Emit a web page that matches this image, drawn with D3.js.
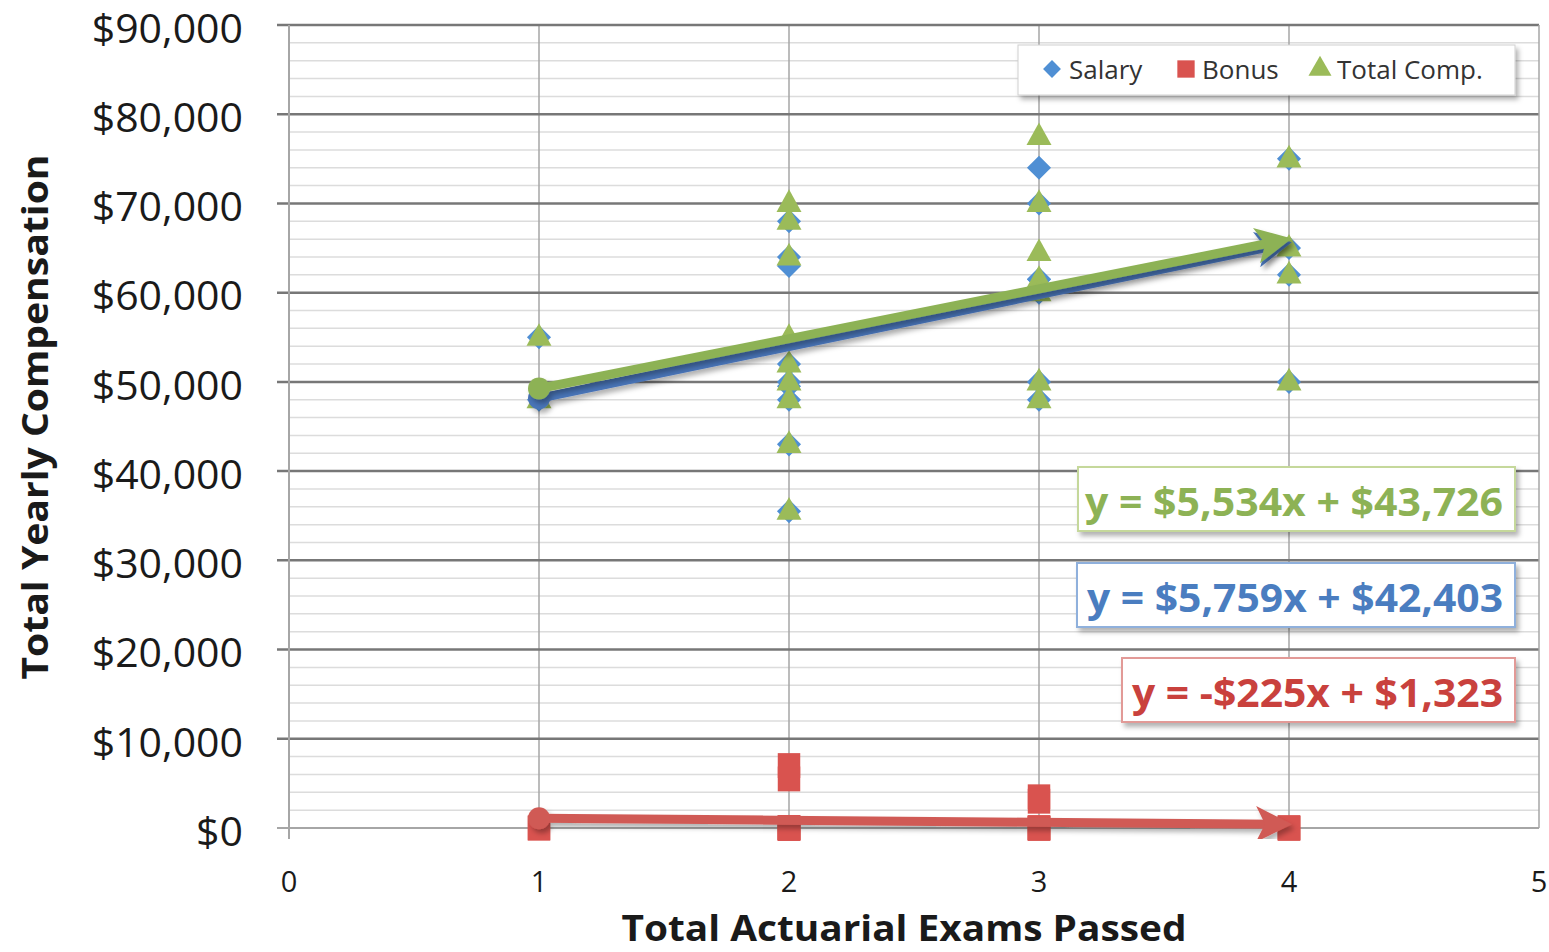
<!DOCTYPE html>
<html lang="en">
<head>
<meta charset="UTF-8">
<title>Total Yearly Compensation vs Exams Passed</title>
<script src="https://d3js.org/d3.v7.min.js"></script>
<style>
    body { margin: 0; background: #fff; }
    svg { display: block; font-family: "Open Sans", "DejaVu Sans", sans-serif; }
</style>
</head>
<body>
<svg id="chart" width="1549" height="952"></svg>
<script>
// one entry per respondent
const examsPassed = [1, 1, 2, 2, 2, 2, 2, 2, 2, 2, 2, 3, 3, 3, 3, 3, 3, 3, 4, 4, 4, 4];
const salary = [55000, 48000, 68000, 63000, 64000, 49500, 52000, 50000, 48000, 43000, 35500,
                74000, 70000, 61500, 61500, 60000, 50000, 48000, 75000, 65000, 62000, 50000];
const bonus  = [0, 0, 0, 7000, 0, 5500, 0, 0, 0, 0, 0,
                3500, 0, 3000, 0, 0, 0, 0, 0, 0, 0, 0];
const totalComp = [55000, 48000, 68000, 70000, 64000, 55000, 52000, 50000, 48000, 43000, 35500,
                   77500, 70000, 64500, 61500, 60000, 50000, 48000, 75000, 65000, 62000, 50000];

// trend line coefficients shown in the chart: [slope, intercept]
const trendTotal = [5534, 43726];
const trendSalary = [5759, 42403];
const trendBonus = [-225, 1323];

const xTicks = [0, 1, 2, 3, 4, 5];
const yTicks = [0, 10000, 20000, 30000, 40000, 50000, 60000, 70000, 80000, 90000];
const legendNames = ['Salary', 'Bonus', 'Total Comp.'];

const colors = {
    salary: '#4f8fd4',
    bonus: '#d9534f',
    total: '#9bbb59',
    salaryLine: '#4a74b8',
    bonusLine: '#d05a55',
    totalLine: '#8db255'
};

const svg = d3.select('#chart');
const x = d3.scaleLinear().domain([0, 5]).range([289, 1539]);
const y = d3.scaleLinear().domain([0, 90000]).range([828, 25]);

const defs = svg.append('defs');
const shadow = defs.append('filter').attr('id', 'shadow')
    .attr('x', '-10%').attr('y', '-20%').attr('width', '130%').attr('height', '160%');
shadow.append('feDropShadow').attr('dx', 3).attr('dy', 4).attr('stdDeviation', 2.5)
    .attr('flood-color', '#000').attr('flood-opacity', 0.3);

// grid: minor every 2,000, major every 10,000
const minor = d3.range(0, 90001, 2000).filter(v => v % 10000 !== 0);
svg.append('g').selectAll('line').data(minor).join('line')
    .attr('x1', x(0)).attr('x2', x(5))
    .attr('y1', d => y(d)).attr('y2', d => y(d))
    .attr('stroke', '#dcdcdc').attr('stroke-width', 1.5);

svg.append('g').selectAll('line').data([1, 2, 3, 4]).join('line')
    .attr('x1', d => x(d)).attr('x2', d => x(d))
    .attr('y1', y(90000)).attr('y2', y(0))
    .attr('stroke', '#a6a6a6').attr('stroke-width', 1.5);

svg.append('g').selectAll('line').data(yTicks).join('line')
    .attr('x1', x(0) - 12).attr('x2', x(5))
    .attr('y1', d => y(d)).attr('y2', d => y(d))
    .attr('stroke', d => d === 0 ? '#a6a6a6' : '#777')
    .attr('stroke-width', d => d === 0 ? 2 : 2.5);

// axis and right border
svg.append('line').attr('x1', x(0)).attr('x2', x(0))
    .attr('y1', y(90000)).attr('y2', y(0) + 11)
    .attr('stroke', '#a6a6a6').attr('stroke-width', 2);
svg.append('line').attr('x1', x(5)).attr('x2', x(5))
    .attr('y1', y(90000)).attr('y2', y(0))
    .attr('stroke', '#a6a6a6').attr('stroke-width', 1.5);

// tick labels
const fmtMoney = d => '$' + d3.format(',')(d);
svg.append('g').selectAll('text').data(yTicks).join('text')
    .attr('x', 243).attr('y', d => y(d) + 3)
    .attr('dy', '0.36em')
    .attr('text-anchor', 'end')
    .attr('font-size', 41)
    .style('fill', '#1a1a1a')
    .text(fmtMoney);

svg.append('g').selectAll('text').data(xTicks).join('text')
    .attr('x', d => x(d)).attr('y', 892)
    .attr('text-anchor', 'middle')
    .attr('font-size', 29)
    .style('fill', '#1a1a1a')
    .text(d => d);

// axis titles
svg.append('text')
    .attr('x', 904).attr('y', 941)
    .attr('text-anchor', 'middle')
    .attr('font-size', 36).attr('font-weight', 700)
    .attr('textLength', 565).attr('lengthAdjust', 'spacingAndGlyphs')
    .style('fill', '#1a1a1a')
    .text('Total Actuarial Exams Passed');

svg.append('text')
    .attr('transform', 'translate(48,417) rotate(-90)')
    .attr('text-anchor', 'middle')
    .attr('font-size', 36).attr('font-weight', 700)
    .attr('textLength', 525).attr('lengthAdjust', 'spacingAndGlyphs')
    .style('fill', '#1a1a1a')
    .text('Total Yearly Compensation');

// markers (diamond = square turned 45 degrees)
const diamond = d3.symbol().type(d3.symbolSquare).size(290);
const square = d3.symbol().type(d3.symbolSquare).size(560);
const triangle = d3.symbol().type(d3.symbolTriangle).size(270);

const pts = examsPassed.map((e, i) => ({ e, s: salary[i], b: bonus[i], t: totalComp[i] }));

svg.append('g').selectAll('path').data(pts).join('path')
    .attr('d', diamond)
    .attr('transform', d => `translate(${x(d.e)},${y(d.s)}) rotate(45)`)
    .attr('fill', colors.salary);

svg.append('g').selectAll('path').data(pts).join('path')
    .attr('d', square)
    .attr('transform', d => `translate(${x(d.e)},${y(d.b)}) scale(0.95,1.05)`)
    .attr('fill', colors.bonus);

svg.append('g').selectAll('path').data(pts).join('path')
    .attr('d', triangle)
    .attr('transform', d => `translate(${x(d.e)},${y(d.t) + 1}) scale(1,1.05)`)
    .attr('fill', colors.total);

// trend lines, x from 1 to 4
function addArrow(id, color) {
    defs.append('marker').attr('id', id)
        .attr('viewBox', '0 -6 12 12')
        .attr('refX', 9).attr('refY', 0)
        .attr('markerWidth', 4).attr('markerHeight', 4)
        .attr('orient', 'auto')
        .append('path').attr('d', 'M0,-6L12,0L0,6L3,0Z')
        .attr('fill', color);
}

function drawTrend(coef, color, id) {
    addArrow(id, color);
    const g = svg.append('g').attr('filter', 'url(#shadow)');
    const f = v => coef[0] * v + coef[1];
    g.append('line')
        .attr('x1', x(1)).attr('y1', y(f(1)))
        .attr('x2', x(4) - 6).attr('y2', y(f(4)))
        .attr('stroke', color).attr('stroke-width', 9)
        .attr('marker-end', `url(#${id})`);
    g.append('circle')
        .attr('cx', x(1)).attr('cy', y(f(1))).attr('r', 11)
        .attr('fill', color);
}

drawTrend(trendBonus, colors.bonusLine, 'arrow-bonus');
drawTrend(trendSalary, colors.salaryLine, 'arrow-salary');
drawTrend(trendTotal, colors.totalLine, 'arrow-total');

// legend
const legend = svg.append('g');
legend.append('rect')
    .attr('x', 1018).attr('y', 45).attr('width', 497).attr('height', 50)
    .attr('fill', '#fff').attr('stroke', '#d0d0d0').attr('filter', 'url(#shadow)');
const legendItems = [
    { name: legendNames[0], sym: d3.symbol().type(d3.symbolSquare).size(160), color: colors.salary, cx: 1052, tx: 1069, rot: 45 },
    { name: legendNames[1], sym: d3.symbol().type(d3.symbolSquare).size(300), color: colors.bonus, cx: 1186, tx: 1202, rot: 0 },
    { name: legendNames[2], sym: d3.symbol().type(d3.symbolTriangle).size(230), color: colors.total, cx: 1320, tx: 1337, rot: 0 }
];
legendItems.forEach(d => {
    legend.append('path').attr('d', d.sym())
        .attr('transform', `translate(${d.cx},69) rotate(${d.rot})`)
        .attr('fill', d.color);
    legend.append('text')
        .attr('x', d.tx).attr('y', 79)
        .attr('font-size', 26)
        .style('fill', '#333')
        .text(d.name);
});

// equation labels
const fmtCoef = v => (v < 0 ? '-$' : '$') + d3.format(',')(Math.abs(v));
const eqLabels = [
    { coef: trendTotal, color: '#8db255', border: '#c5d89b', bx: 1078, by: 467, bw: 437, tw: 418 },
    { coef: trendSalary, color: '#4a7dc0', border: '#8fb0dc', bx: 1077, by: 563, bw: 438, tw: 416 },
    { coef: trendBonus, color: '#c9413d', border: '#e29a97', bx: 1122, by: 658, bw: 393, tw: 371 }
];
eqLabels.forEach(d => {
    svg.append('rect')
        .attr('x', d.bx).attr('y', d.by).attr('width', d.bw).attr('height', 64)
        .attr('fill', '#fff').attr('stroke', d.border).attr('stroke-width', 2)
        .attr('filter', 'url(#shadow)');
    svg.append('text')
        .attr('x', 1503).attr('y', d.by + 49)
        .attr('text-anchor', 'end')
        .attr('font-size', 40).attr('font-weight', 700)
        .style('fill', d.color)
        .attr('textLength', d.tw).attr('lengthAdjust', 'spacingAndGlyphs')
        .text(`y = ${fmtCoef(d.coef[0])}x + ${fmtCoef(d.coef[1])}`);
});
</script>
</body>
</html>
